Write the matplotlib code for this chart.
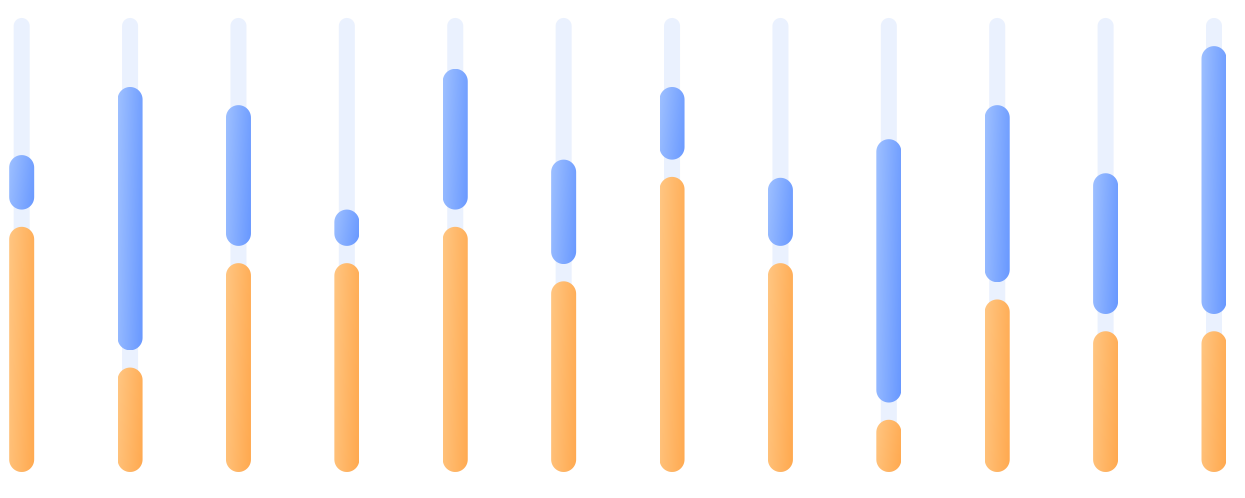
import matplotlib
matplotlib.use("Agg")
import matplotlib.pyplot as plt
import numpy as np
from matplotlib.patches import PathPatch
from matplotlib.path import Path
from matplotlib.colors import LinearSegmentedColormap

months = ["1月", "2月", "3月", "4月", "5月", "6月", "7月", "8月", "9月", "10月", "11月", "12月"]
orange_vals = [54, 23, 46, 46, 54, 42, 65, 46, 11.5, 38, 31, 31]
blue_vals = [12, 58, 31, 8, 31, 23, 16, 15, 58, 39, 31, 59]
track_max = 100
gap = 3.8

fig = plt.figure(figsize=(12.45, 4.98), dpi=100)
ax = fig.add_axes([0, 0, 1, 1])
x_lo, x_hi = -0.2, 11.286
y_lo, y_hi = -5.73, 103.96
ax.set_xlim(x_lo, x_hi)
ax.set_ylim(y_lo, y_hi)
ax.axis("off")

# data units per pixel
px_x = (x_hi - x_lo) / 1245
px_y = (y_hi - y_lo) / 498

orange_cmap = LinearSegmentedColormap.from_list("o", ["#FFC682", "#FFA94F"])
blue_cmap = LinearSegmentedColormap.from_list("b", ["#9EC0FF", "#6898FF"])

gx, gy = np.meshgrid(np.linspace(0, 1, 40), np.linspace(0, 1, 200))


def stadium(x, y0, y1, width_px):
    # vertical pill shape, round ends are circles in pixel space
    rx = width_px / 2 * px_x
    ry = width_px / 2 * px_y
    ry = min(ry, (y1 - y0) / 2)
    t = np.linspace(0, np.pi, 30)
    top = np.column_stack([x + rx * np.cos(t), y1 - ry + ry * np.sin(t)])
    bot = np.column_stack([x - rx * np.cos(t), y0 + ry - ry * np.sin(t)])
    verts = np.vstack([top, bot, top[:1]])
    codes = [Path.MOVETO] + [Path.LINETO] * (len(verts) - 2) + [Path.CLOSEPOLY]
    return Path(verts, codes), rx


def rounded_bar(x, y0, y1, width_px, color=None, cmap=None, z=2):
    path, rx = stadium(x, y0, y1, width_px)
    patch = PathPatch(path, linewidth=0, facecolor=color if color else "none",
                      edgecolor="none", zorder=z)
    ax.add_patch(patch)
    if cmap is not None:
        grad = gx * 0.8 + gy * 0.2
        im = ax.imshow(grad, extent=(x - rx, x + rx, y0, y1), origin="upper",
                       cmap=cmap, aspect="auto", interpolation="bilinear", zorder=z)
        im.set_clip_path(patch)


for i in range(len(months)):
    rounded_bar(i, 0, track_max, 16, color="#EAF1FE", z=1)
    rounded_bar(i, 0, orange_vals[i], 25, cmap=orange_cmap)
    b0 = orange_vals[i] + gap
    rounded_bar(i, b0, b0 + blue_vals[i], 25, cmap=blue_cmap)

ax.set_xlim(x_lo, x_hi)
ax.set_ylim(y_lo, y_hi)
fig.savefig("out.png", dpi=100)
